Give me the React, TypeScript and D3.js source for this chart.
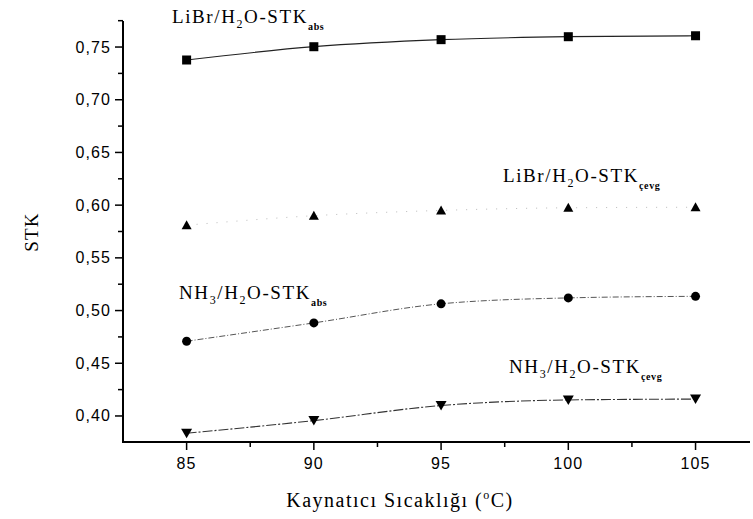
import React from "react";
import * as d3 from "d3";

// Boiler temperature (°C)
const temps = [85, 90, 95, 100, 105];

// Coefficient of performance series
const libr_abs = [0.7377, 0.7503, 0.757, 0.7598, 0.7607];
const libr_cevr = [0.581, 0.590, 0.595, 0.5975, 0.598];
const nh3_abs = [0.4709, 0.4883, 0.5064, 0.512, 0.5135];
const nh3_cevr = [0.3836, 0.3956, 0.4099, 0.4152, 0.416];

const xTicks = [85, 90, 95, 100, 105];
const xMinorTicks = [87.5, 92.5, 97.5, 102.5];
const yTicks = [0.4, 0.45, 0.5, 0.55, 0.6, 0.65, 0.7, 0.75];
const yMinorTicks = [0.425, 0.475, 0.525, 0.575, 0.625, 0.675, 0.725, 0.775];

const W = 753;
const H = 519;
const SERIF = "'Liberation Serif', 'Times New Roman', serif";
const SANS = "'Liberation Sans', Arial, sans-serif";

export default function App() {
  const x = d3.scaleLinear().domain([82.5, 107.14]).range([123, 750]);
  const y = d3.scaleLinear().domain([0.3753, 0.7747]).range([442, 21]);

  const line = (vals: number[]) =>
    d3
      .line<number>()
      .x((_, i) => x(temps[i]))
      .y((v) => y(v))
      .curve(d3.curveMonotoneX)(vals) as string;

  const fmt = (v: number) => d3.format(".2f")(v).replace(".", ",");

  const square = (cx: number, cy: number, k: string) => (
    <rect key={k} x={cx - 4.5} y={cy - 4.5} width={9} height={9} fill="#000" />
  );
  const triUp = (cx: number, cy: number, k: string) => (
    <path key={k} d={`M${cx},${cy - 5}L${cx + 5},${cy + 4}L${cx - 5},${cy + 4}Z`} fill="#000" />
  );
  const triDown = (cx: number, cy: number, k: string) => (
    <path key={k} d={`M${cx - 5.5},${cy - 4.5}L${cx + 5.5},${cy - 4.5}L${cx},${cy + 5}Z`} fill="#000" />
  );
  const circle = (cx: number, cy: number, k: string) => (
    <circle key={k} cx={cx} cy={cy} r={4.5} fill="#000" />
  );

  const label = (
    px: number,
    py: number,
    parts: { main1: string; sub1?: string; main2?: string; sub2?: string; main3: string; tail: string }
  ) => (
    <text x={px} y={py} fontFamily={SERIF} fontSize={19} letterSpacing={1.6} fill="#000">
      {parts.main1}
      {parts.sub1 && (
        <tspan fontSize={12} dy={5}>
          {parts.sub1}
        </tspan>
      )}
      {parts.sub1 && <tspan dy={-5}>{parts.main2}</tspan>}
      {parts.sub2 && (
        <tspan fontSize={12} dy={5}>
          {parts.sub2}
        </tspan>
      )}
      {parts.sub2 && <tspan dy={-5}>{parts.main3}</tspan>}
      <tspan fontSize={10} dy={7} fontWeight="bold" letterSpacing={0.6}>
        {parts.tail}
      </tspan>
    </text>
  );

  return (
    <svg
      width={W}
      height={H}
      viewBox={`0 0 ${W} ${H}`}
      style={{ position: "absolute", left: 0, top: 0, background: "#fff" }}
    >
      <rect width={W} height={H} fill="#fff" />

      {/* series lines */}
      <path d={line(libr_abs)} fill="none" stroke="#222" strokeWidth={1.2} />
      <path d={line(libr_cevr)} fill="none" stroke="#bbb" strokeWidth={1} strokeDasharray="1 9" />
      <path d={line(nh3_abs)} fill="none" stroke="#555" strokeWidth={1} strokeDasharray="6 2 1 2" />
      <path d={line(nh3_cevr)} fill="none" stroke="#333" strokeWidth={1.1} strokeDasharray="10 2 2 2" />

      {/* markers */}
      {libr_abs.map((v, i) => square(x(temps[i]), y(v), "s" + i))}
      {libr_cevr.map((v, i) => triUp(x(temps[i]), y(v), "t" + i))}
      {nh3_abs.map((v, i) => circle(x(temps[i]), y(v), "c" + i))}
      {nh3_cevr.map((v, i) => triDown(x(temps[i]), y(v), "d" + i))}

      {/* y axis */}
      <line x1={123} x2={123} y1={y(0.7747)} y2={443} stroke="#000" strokeWidth={2} />
      {yTicks.map((t) => (
        <g key={"yt" + t}>
          <line x1={115} x2={123} y1={y(t)} y2={y(t)} stroke="#000" strokeWidth={1.5} />
          <text
            x={111}
            y={y(t) + 5.5}
            textAnchor="end"
            fontFamily={SANS}
            fontSize={16}
            letterSpacing={1.1}
            fill="#000"
          >
            {fmt(t)}
          </text>
        </g>
      ))}
      {yMinorTicks.map((t) => (
        <line key={"ym" + t} x1={118} x2={123} y1={y(t)} y2={y(t)} stroke="#000" strokeWidth={1.5} />
      ))}

      {/* x axis */}
      <line x1={122} x2={750} y1={442} y2={442} stroke="#000" strokeWidth={2} />
      {xTicks.map((t) => (
        <g key={"xt" + t}>
          <line x1={x(t)} x2={x(t)} y1={442} y2={450} stroke="#000" strokeWidth={1.5} />
          <text
            x={x(t)}
            y={469}
            textAnchor="middle"
            fontFamily={SANS}
            fontSize={16}
            letterSpacing={1.1}
            fill="#000"
          >
            {t}
          </text>
        </g>
      ))}
      {xMinorTicks.map((t) => (
        <line key={"xm" + t} x1={x(t)} x2={x(t)} y1={442} y2={447} stroke="#000" strokeWidth={1.5} />
      ))}

      {/* axis titles */}
      <text
        x={400}
        y={507}
        textAnchor="middle"
        fontFamily={SERIF}
        fontSize={20}
        letterSpacing={1.5}
        fill="#000"
      >
        Kaynatıcı Sıcaklığı (
        <tspan fontSize={12} dy={-8}>
          o
        </tspan>
        <tspan dy={8}>C)</tspan>
      </text>
      <text
        transform="translate(38,232) rotate(-90)"
        textAnchor="middle"
        fontFamily={SERIF}
        fontSize={19}
        letterSpacing={1.2}
        fill="#000"
      >
        STK
      </text>

      {/* series labels */}
      {label(172, 23, { main1: "LiBr/H", sub1: "2", main2: "O-STK", main3: "", tail: "abs" })}
      {label(503, 182, { main1: "LiBr/H", sub1: "2", main2: "O-STK", main3: "", tail: "çevg" })}
      {label(179, 299, { main1: "NH", sub1: "3", main2: "/H", sub2: "2", main3: "O-STK", tail: "abs" })}
      {label(509, 373, { main1: "NH", sub1: "3", main2: "/H", sub2: "2", main3: "O-STK", tail: "çevg" })}
    </svg>
  );
}
